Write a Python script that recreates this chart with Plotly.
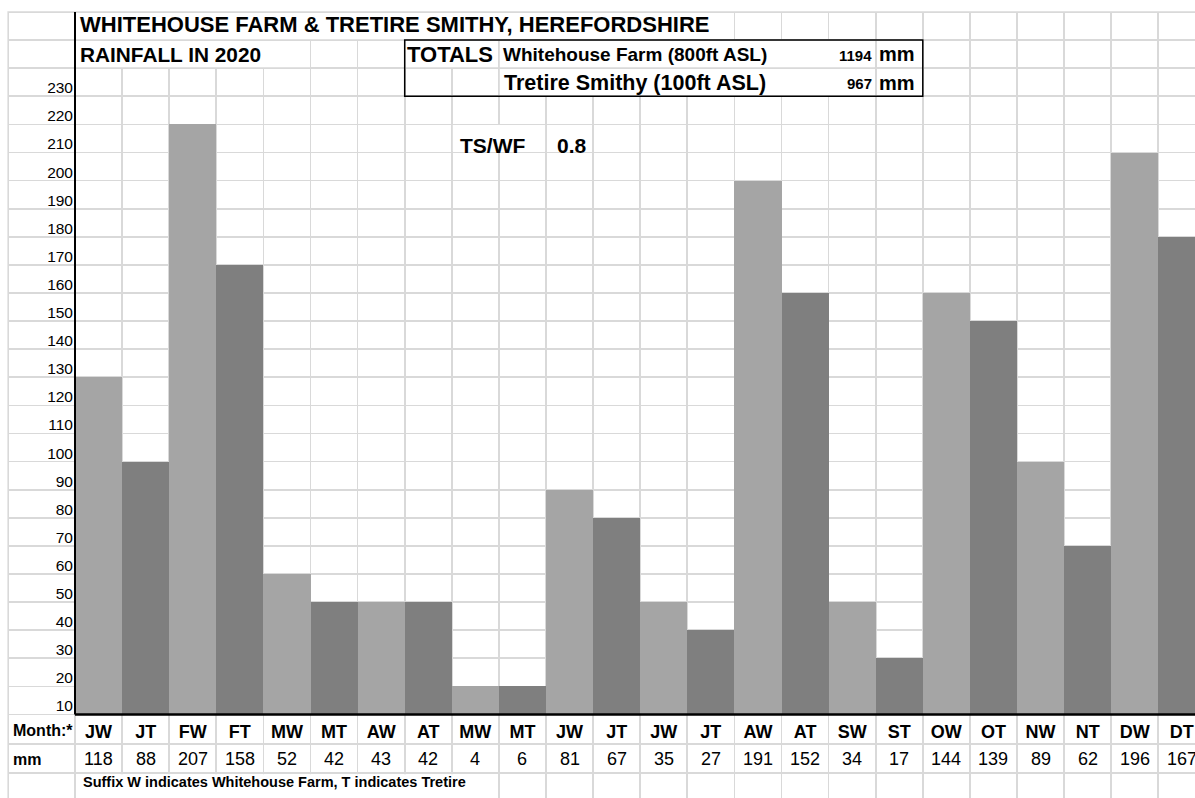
import plotly.graph_objects as go

# ---------------- data ----------------
months = ["JW", "JT", "FW", "FT", "MW", "MT", "AW", "AT", "MW", "MT", "JW", "JT",
          "JW", "JT", "AW", "AT", "SW", "ST", "OW", "OT", "NW", "NT", "DW", "DT"]
rain_mm = [118, 88, 207, 158, 52, 42, 43, 42, 4, 6, 81, 67,
           35, 27, 191, 152, 34, 17, 144, 139, 89, 62, 196, 167]
# bar heights as drawn on the row scale of the sheet
bar_mm = [120, 90, 210, 160, 50, 40, 40, 40, 10, 10, 80, 70,
          40, 30, 190, 150, 40, 20, 150, 140, 90, 60, 200, 170]
row_labels = [230, 220, 210, 200, 190, 180, 170, 160, 150, 140, 130, 120,
              110, 100, 90, 80, 70, 60, 50, 40, 30, 20, 10]
total_wf = 1194
total_ts = 967
ratio_ts_wf = 0.8

# ---------------- geometry / style ----------------
W, H = 1195, 798
COL_LEFT = 75.0      # px, left edge of first bar column
COL_W = 47.1         # px per column
BASE_Y = 714.5       # px, baseline
ROW_H = 28.1         # px per 10 mm row
PX_MM = ROW_H / 10.0
FONT = "Liberation Sans, Arial, sans-serif"
GRID = "#d9d9d9"
GRID_W = 1.7
LIGHT = "#a5a5a5"
DARK = "#7f7f7f"


def xd(px):
    return (px - COL_LEFT) / COL_W - 0.5


def yd(py):
    return (BASE_Y - py) / PX_MM


x_range = [xd(0), xd(W)]
y_range = [yd(H), yd(0)]
n = len(months)
xs = list(range(n))
colors = [LIGHT if m.endswith("W") else DARK for m in months]

fig = go.Figure()
fig.add_trace(go.Bar(
    x=xs, y=bar_mm, width=1.0,
    marker=dict(color=colors, line=dict(width=0)),
    hoverinfo="skip", showlegend=False,
))

# grid: row lines every 10 mm plus the table rows under the chart
y_grid = [v for v in range(0, 260, 10)] + [yd(744.3), yd(773.3)]
x_grid = [xd(8.3)] + [i - 0.5 for i in range(n + 1)]
label_vals = [(lab - 10) + 8.5 / PX_MM for lab in row_labels]

fig.update_layout(
    width=W, height=H,
    margin=dict(l=0, r=0, t=0, b=0, autoexpand=False),
    paper_bgcolor="white", plot_bgcolor="white",
    bargap=0,
    font=dict(family=FONT, color="black"),
    xaxis=dict(
        range=x_range, anchor="free", position=1 - BASE_Y / H, side="bottom",
        tickvals=xs, ticktext=months, ticks="", showgrid=False, zeroline=False,
        showline=False, automargin=False, ticklabelstandoff=4,
        tickfont=dict(family=FONT, size=18, color="black", weight="bold"),
        minor=dict(tickvals=x_grid, showgrid=True, gridcolor=GRID, gridwidth=GRID_W, ticks=""),
    ),
    yaxis=dict(
        range=y_range, anchor="free", position=COL_LEFT / W, side="left",
        tickvals=label_vals, ticktext=[str(v) for v in row_labels], ticks="",
        showgrid=False, zeroline=False, showline=False, automargin=False,
        ticklabelstandoff=2,
        tickfont=dict(family=FONT, size=15.5, color="black"),
        minor=dict(tickvals=y_grid, showgrid=True, gridcolor=GRID, gridwidth=GRID_W, ticks=""),
    ),
)

shapes = []


def rect(x0, y0, x1, y1, **kw):
    shapes.append(dict(type="rect", xref="x", yref="y",
                       x0=xd(x0), x1=xd(x1), y0=yd(y1), y1=yd(y0), **kw))


white = dict(fillcolor="white", line=dict(width=0), layer="above")
# page edges outside the sheet grid
rect(0, 0, W, 11.2, **white)
rect(0, 0, 7.4, H, **white)
# cells where text overflows hide the vertical gridlines
rect(76, 13, 733.4, 39.2, **white)
rect(76, 41, 310.0, 67.2, **white)
rect(405.6, 41, 498.0, 67.2, **white)
rect(499.8, 41, 874.8, 67.2, **white)
rect(499.8, 69, 874.8, 95.2, **white)
rect(452.8, 125, 545.1, 151.2, **white)
rect(76, 774.2, 498.0, H, **white)

# black axis lines
shapes.append(dict(type="line", xref="x", yref="y", x0=xd(COL_LEFT), x1=xd(COL_LEFT),
                   y0=yd(12), y1=yd(BASE_Y), line=dict(color="black", width=2), layer="above"))
shapes.append(dict(type="line", xref="x", yref="y", x0=xd(COL_LEFT), x1=xd(W + 5),
                   y0=0, y1=0, line=dict(color="black", width=2.5), layer="above"))
# totals box
rect(404.7, 40.0, 922.8, 96.2, fillcolor="rgba(0,0,0,0)",
     line=dict(color="black", width=1.5), layer="above")
fig.update_layout(shapes=shapes)

ann = []


def text(px, py, s, size, bold=True, anchor="left"):
    ann.append(dict(xref="x", yref="y", x=xd(px), y=yd(py), text=s, showarrow=False,
                    xanchor=anchor, yanchor="middle",
                    font=dict(family=FONT, size=size, color="black",
                              weight="bold" if bold else "normal")))


text(78, 24, "WHITEHOUSE FARM &amp; TRETIRE SMITHY, HEREFORDSHIRE", 22)
text(78, 54, "RAINFALL IN 2020", 20.8)
text(405, 54, "TOTALS", 22)
text(501, 54.5, "Whitehouse Farm (800ft ASL)", 19)
text(873.5, 55.5, str(total_wf), 15, anchor="right")
text(877, 54, "mm", 20)
text(502, 82.5, "Tretire Smithy (100ft ASL)", 21.5)
text(873.5, 83.5, str(total_ts), 15, anchor="right")
text(877, 82.5, "mm", 20)
text(458, 145.5, "TS/WF", 21)
text(555, 145.5, str(ratio_ts_wf), 21)
text(11, 730, "Month:*", 16)
text(11, 759.5, "mm", 16)
text(81, 782, "Suffix W indicates Whitehouse Farm, T indicates Tretire", 14.5)

for i, v in enumerate(rain_mm):
    ann.append(dict(xref="x", yref="y", x=i, y=yd(758.8), text=str(v), showarrow=False,
                    xanchor="center", yanchor="middle",
                    font=dict(family=FONT, size=18, color="black")))

fig.update_layout(annotations=ann)

fig.write_html(
    "out.html",
    config={"displayModeBar": False, "staticPlot": True},
    post_script="document.body.style.margin='0';document.body.style.overflow='hidden';",
)
